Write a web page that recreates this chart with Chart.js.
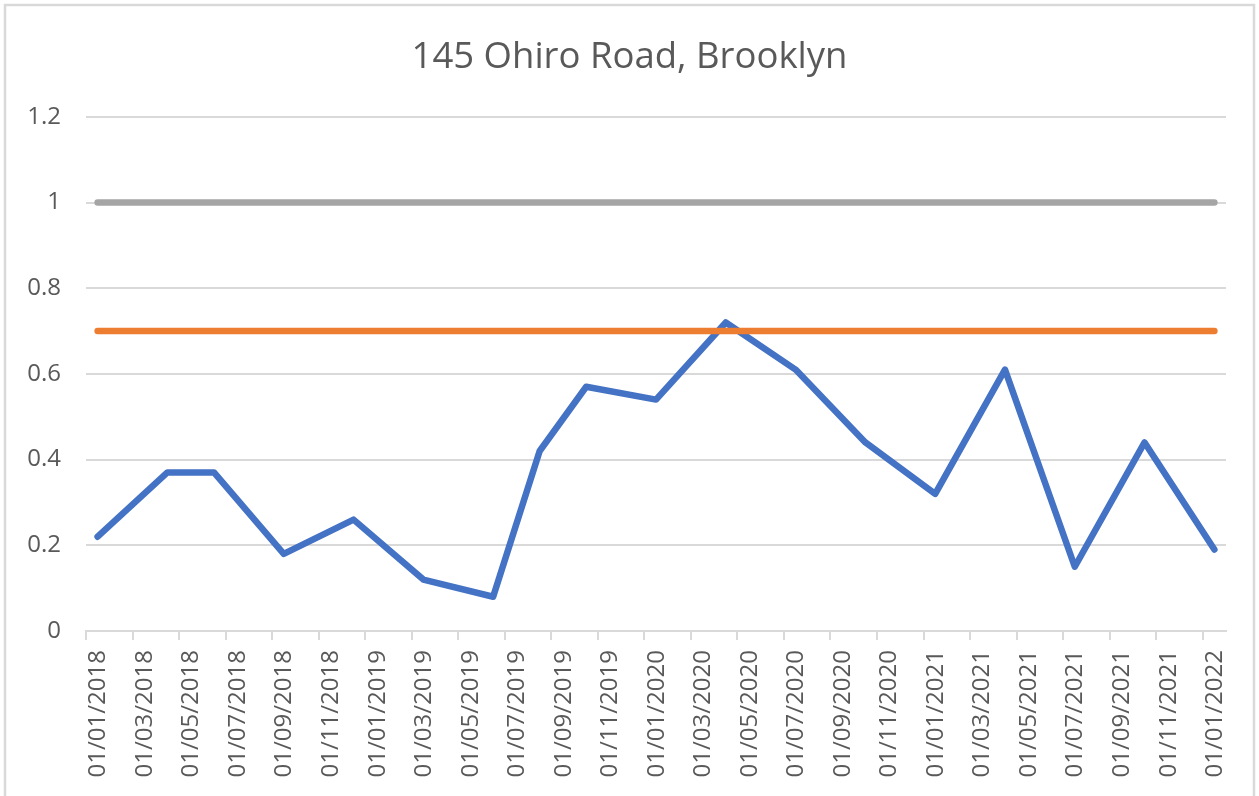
<!DOCTYPE html>
<html>
<head>
<meta charset="utf-8">
<script src="https://cdn.jsdelivr.net/npm/chart.js@4.4.0/dist/chart.umd.min.js"></script>
<style>
  html, body { margin: 0; padding: 0; background: #fff; }
  #wrap { width: 1259px; height: 796px; position: relative; }
</style>
</head>
<body>
<div id="wrap"><canvas id="ohiroChart"></canvas></div>
<script>
// Sample dates (year-month) and readings for 145 Ohiro Road
const sampleMonths = ['2018-01', '2018-04', '2018-06', '2018-09', '2018-12', '2019-03',
  '2019-06', '2019-08', '2019-10', '2020-01', '2020-04', '2020-07', '2020-10',
  '2021-01', '2021-04', '2021-07', '2021-10', '2022-01'];
const readings = [0.22, 0.37, 0.37, 0.18, 0.26, 0.12, 0.08, 0.42, 0.57, 0.54,
  0.72, 0.61, 0.44, 0.32, 0.61, 0.15, 0.44, 0.19];
const guideline = [0.7, 0.7, 0.7, 0.7, 0.7, 0.7, 0.7, 0.7, 0.7, 0.7, 0.7, 0.7, 0.7, 0.7, 0.7, 0.7, 0.7, 0.7];
const upperLimit = [1, 1, 1, 1, 1, 1, 1, 1, 1, 1, 1, 1, 1, 1, 1, 1, 1, 1];

const tickLabels = ['01/01/2018', '01/03/2018', '01/05/2018', '01/07/2018', '01/09/2018', '01/11/2018',
  '01/01/2019', '01/03/2019', '01/05/2019', '01/07/2019', '01/09/2019', '01/11/2019',
  '01/01/2020', '01/03/2020', '01/05/2020', '01/07/2020', '01/09/2020', '01/11/2020',
  '01/01/2021', '01/03/2021', '01/05/2021', '01/07/2021', '01/09/2021', '01/11/2021',
  '01/01/2022'];
const yTicks = [0, 0.2, 0.4, 0.6, 0.8, 1, 1.2];

const START_YEAR = 2018;
// months since Jan 2018 -> each month is one slot on the axis
const monthIndex = s => {
  const [y, m] = s.split('-').map(Number);
  return (y - START_YEAR) * 12 + (m - 1);
};
const labelMonth = lbl => {
  const [d, m, y] = lbl.split('/').map(Number);
  return (y - START_YEAR) * 12 + (m - 1);
};

const xs = sampleMonths.map(monthIndex);
const toPoints = vals => vals.map((v, i) => ({ x: xs[i], y: v }));

const TEXT = '#595959';
const GRID = '#d9d9d9';
const FONT = "'Open Sans', 'Noto Sans', sans-serif";

// light frame round the whole chart, like the Excel chart area border
const frame = {
  id: 'frame',
  beforeDraw(chart) {
    const ctx = chart.ctx;
    ctx.save();
    ctx.fillStyle = '#fff';
    ctx.fillRect(0, 0, chart.width, chart.height);
    ctx.strokeStyle = GRID;
    ctx.lineWidth = 2.5;
    ctx.strokeRect(5, 5, chart.width - 10, chart.height + 20);
    ctx.restore();
  }
};

const lineStyle = {
  borderWidth: 6.5,
  borderCapStyle: 'round',
  borderJoinStyle: 'round',
  pointRadius: 0,
  tension: 0,
  fill: false
};

new Chart(document.getElementById('ohiroChart'), {
  type: 'line',
  data: {
    datasets: [
      { label: 'Reading', data: toPoints(readings), borderColor: '#4472c4', order: 3, ...lineStyle },
      { label: 'Guideline', data: toPoints(guideline), borderColor: '#ed7d31', order: 2, ...lineStyle },
      { label: 'Limit', data: toPoints(upperLimit), borderColor: '#a5a5a5', order: 1, ...lineStyle }
    ]
  },
  options: {
    responsive: true,
    maintainAspectRatio: false,
    animation: false,
    layout: { padding: 0 },
    plugins: {
      legend: { display: false },
      tooltip: { enabled: false },
      title: {
        display: true,
        text: '145 Ohiro Road, Brooklyn',
        color: TEXT,
        font: { family: FONT, size: 36.5, weight: 'normal', lineHeight: 1.2 },
        padding: { top: 36, bottom: 37 }
      }
    },
    scales: {
      x: {
        type: 'linear',
        min: -0.5,
        max: 48.5,
        afterBuildTicks: s => {
          // tick marks sit at the start of each labelled month's slot
          s.ticks = tickLabels.map(l => ({ value: labelMonth(l) - 0.5 }));
        },
        afterFit: s => { s.height = 165; },
        grid: {
          drawOnChartArea: false,
          drawTicks: true,
          tickLength: 9,
          color: GRID,
          lineWidth: 2
        },
        border: { display: true, color: GRID, width: 2 },
        ticks: {
          autoSkip: false,
          maxRotation: 90,
          minRotation: 90,
          padding: 10,
          labelOffset: 12.5,
          color: TEXT,
          font: { family: FONT, size: 24 },
          callback: (v, i) => tickLabels[i]
        }
      },
      y: {
        min: yTicks[0],
        max: yTicks[yTicks.length - 1],
        afterBuildTicks: s => { s.ticks = yTicks.map(v => ({ value: v })); },
        afterFit: s => { s.width = 86; },
        grid: { color: GRID, lineWidth: 2, drawTicks: false },
        border: { display: false },
        ticks: {
          padding: 25,
          color: TEXT,
          font: { family: FONT, size: 24 },
          callback: v => String(v)
        }
      },
      // empty right-hand axis: only keeps the plot clear of the right frame
      spacer: {
        type: 'linear',
        position: 'right',
        display: true,
        grid: { display: false },
        border: { display: false },
        ticks: { display: false },
        afterFit: s => { s.width = 33; }
      }
    }
  },
  plugins: [frame]
});
</script>
</body>
</html>
